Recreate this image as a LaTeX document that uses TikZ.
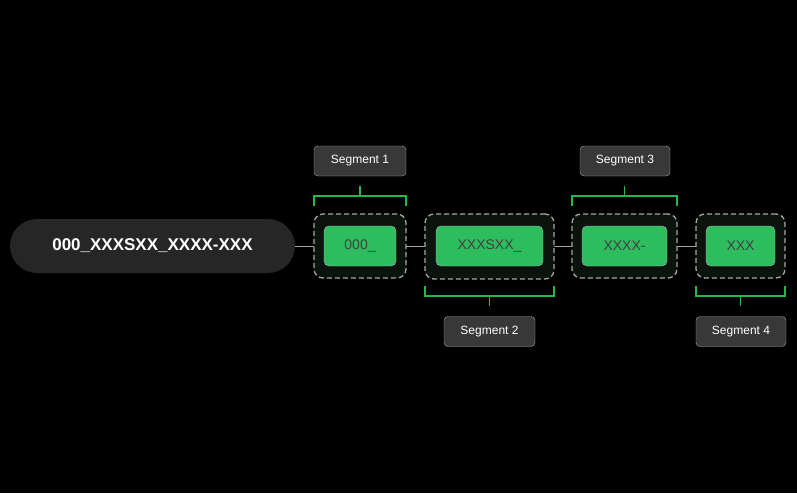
\documentclass[tikz,border=0pt]{standalone}
\usepackage{fontspec}
\setmainfont{Liberation Sans}
\definecolor{gr}{HTML}{2DBD5F}
\definecolor{br}{HTML}{22B84F}
\begin{document}
\begin{tikzpicture}[x=1pt,y=-1pt,
 outer/.style={draw=gray!70,dashed,line width=1.3pt,fill={rgb,255:red,10;green,20;blue,13},rounded corners=9pt,dash pattern=on 5pt off 3pt},
 seg/.style={draw=gray!60,fill=gr,rounded corners=5pt,font=\fontsize{14}{16}\selectfont,text=black!75},
 lab/.style={draw=gray!70,fill=black!78,rounded corners=4pt,text=white,font=\fontsize{12}{14}\selectfont,minimum height=30pt,inner sep=0pt},
 brk/.style={draw=br,line width=1.3pt}]
\fill[black] (0,0) rectangle (797,493);
\useasboundingbox (0,0) rectangle (797,493);
\coordinate (L0) at (295,246); \coordinate (L1) at (785,246);
\draw[gray!70,line width=0.8pt] (L0) -- (L1);
\node[fill=black!85,rounded corners=27pt,minimum width=285pt,minimum height=54pt,text=white,font=\bfseries\fontsize{17}{20}\selectfont] (main) at (152.5,246) {000\_XXXSXX\_XXXX-XXX};
% segment 1
\node[outer,minimum width=92pt,minimum height=64pt] (o1) at (360,246) {};
\node[seg,minimum width=72pt,minimum height=40pt] (s1) at (360,246) {000\_};
\node[outer,minimum width=129pt,minimum height=65pt] (o2) at (489.5,246.5) {};
\node[seg,minimum width=107pt,minimum height=40pt] (s2) at (489.5,246) {XXXSXX\_};
\node[outer,minimum width=105pt,minimum height=64pt] (o3) at (624.5,246) {};
\node[seg,minimum width=85pt,minimum height=40pt] (s3) at (624.5,246) {XXXX-};
\node[outer,minimum width=89pt,minimum height=64pt] (o4) at (740.5,246) {};
\node[seg,minimum width=69pt,minimum height=40pt] (s4) at (740.5,246) {XXX};
% labels
\node[lab,minimum width=92pt] (l1) at (360,161) {Segment 1};
\node[lab,minimum width=90pt] (l3) at (625,161) {Segment 3};
\node[lab,minimum width=91pt] (l2) at (489.5,331.5) {Segment 2};
\node[lab,minimum width=90pt] (l4) at (741,331.5) {Segment 4};
% brackets
\draw[brk] (314,206) -- (314,196) -- (406,196) -- (406,206) (360,196) -- (360,186);
\draw[brk] (572,206) -- (572,196) -- (677,196) -- (677,206) (624.5,196) -- (624.5,186);
\draw[brk] (425,286) -- (425,296) -- (554,296) -- (554,286) (489.5,296) -- (489.5,306);
\draw[brk] (696,286) -- (696,296) -- (785,296) -- (785,286) (740.5,296) -- (740.5,306);
\end{tikzpicture}
\end{document}
